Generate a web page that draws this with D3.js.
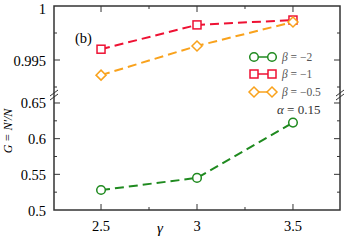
<!DOCTYPE html>
<html>
<head>
<style>
  body { margin: 0; background: #fff; }
</style>
</head>
<body>
<script src="https://cdn.jsdelivr.net/npm/d3@7"></script>
<script>

const width = 346;
const height = 240;

// data
const gammas = [2.5, 3, 3.5];
const betaLabels = [' = \u22122', ' = \u22121', ' = \u22120.5'];
const gBetaM2 = [0.528, 0.545, 0.6225];
const gBetaM1 = [0.9960, 0.99825, 0.99870];
const gBetaM05 = [0.99360, 0.99630, 0.99852];
const xTicks = [2.5, 3, 3.5];
const yTopTicks = [0.995, 1];
const yBotTicks = [0.5, 0.55, 0.6, 0.65];

const plotL = 54, plotR = 340, plotT = 6, plotB = 210, brk = 95;
const serif = "'Liberation Serif', monospace";

const svg = d3.select('body')
              .append('svg')
              .attr('width', width)
              .attr('height', height);

const x = d3.scaleLinear().domain([2.255, 3.745]).range([plotL, plotR]);
const yTop = d3.scaleLinear().domain([0.99176, 1]).range([brk, plotT]);
const yBot = d3.scaleLinear().domain([0.5, 0.6612]).range([plotB, brk]);

const series = [
  {values: gBetaM2, scale: yBot, color: '#1f8a1f', shape: 'circle'},
  {values: gBetaM1, scale: yTop, color: '#ee1133', shape: 'square'},
  {values: gBetaM05, scale: yTop, color: '#f9a21c', shape: 'diamond'}
];

const axisCol = '#333';

// ticks (inward, mirrored)
const tick = (x1, y1, x2, y2) => svg.append('line')
  .attr('x1', x1).attr('y1', y1).attr('x2', x2).attr('y2', y2)
  .attr('stroke', axisCol).attr('stroke-width', 1);

[2.5, 2.75, 3, 3.25, 3.5].forEach((v, i) => {
  const len = i % 2 ? 3 : 6;
  tick(x(v), plotB, x(v), plotB - len);
  tick(x(v), plotT, x(v), plotT + len);
});
[0.9925, 0.995, 0.9975].forEach((v, i) => {
  const len = i === 1 ? 6 : 3;
  tick(plotL, yTop(v), plotL + len, yTop(v));
  tick(plotR, yTop(v), plotR - len, yTop(v));
});
[0.525, 0.55, 0.575, 0.6, 0.625, 0.65].forEach((v, i) => {
  const len = i % 2 ? 6 : 3;
  tick(plotL, yBot(v), plotL + len, yBot(v));
  tick(plotR, yBot(v), plotR - len, yBot(v));
});

// frame
svg.append('rect')
  .attr('x', plotL).attr('y', plotT)
  .attr('width', plotR - plotL).attr('height', plotB - plotT)
  .attr('fill', 'none').attr('stroke', axisCol).attr('stroke-width', 1.5);

// break marks
[plotL - 2, plotR - 2].forEach(bx => {
  [-2, 2].forEach(o => {
    svg.append('line')
      .attr('x1', bx - 2).attr('y1', brk + o + 3)
      .attr('x2', bx + 6).attr('y2', brk + o - 3)
      .attr('stroke', axisCol).attr('stroke-width', 1);
  });
});

// tick labels
svg.selectAll('.xl').data(xTicks).enter().append('text')
  .attr('x', d => x(d)).attr('y', 231)
  .attr('text-anchor', 'middle').attr('font-size', 14.5)
  .style('font-family', serif)
  .text(d => d);

svg.selectAll('.yt').data(yTopTicks).enter().append('text')
  .attr('x', 46).attr('y', d => Math.max(yTop(d) + 5.5, 14))
  .attr('text-anchor', 'end').attr('font-size', 14.5)
  .style('font-family', serif)
  .text(d => d);

svg.selectAll('.yb').data(yBotTicks).enter().append('text')
  .attr('x', 46).attr('y', d => yBot(d) + 5.5)
  .attr('text-anchor', 'end').attr('font-size', 14.5)
  .style('font-family', serif)
  .text(d => d);

// axis titles
svg.append('text')
  .attr('x', 160).attr('y', 233)
  .attr('text-anchor', 'middle').attr('font-size', 15).attr('font-style', 'italic')
  .style('font-family', serif)
  .text('\u03B3');

svg.append('text')
  .attr('transform', 'translate(12,131) rotate(-90)')
  .attr('text-anchor', 'middle').attr('font-size', 12).attr('font-style', 'italic')
  .style('font-family', serif)
  .text("G = N\u2032/N");

svg.append('text')
  .attr('x', 75).attr('y', 43).attr('font-size', 14.5)
  .style('font-family', serif)
  .text('(b)');

// markers
const drawMarker = (g, shape, cx, cy, color) => {
  if (shape === 'circle') {
    g.append('circle').attr('cx', cx).attr('cy', cy).attr('r', 4.3)
      .attr('fill', '#fff').attr('stroke', color).attr('stroke-width', 1.5);
  } else if (shape === 'square') {
    g.append('rect').attr('x', cx - 4).attr('y', cy - 4)
      .attr('width', 8).attr('height', 8)
      .attr('fill', '#fff').attr('stroke', color).attr('stroke-width', 1.5);
  } else {
    g.append('path')
      .attr('d', `M${cx},${cy - 5}L${cx + 5},${cy}L${cx},${cy + 5}L${cx - 5},${cy}Z`)
      .attr('fill', '#fff').attr('stroke', color).attr('stroke-width', 1.5);
  }
};

series.forEach(s => {
  const line = d3.line()
    .x((d, i) => x(gammas[i]))
    .y(d => s.scale(d));
  svg.append('path')
    .attr('d', line(s.values))
    .attr('fill', 'none')
    .attr('stroke', s.color)
    .attr('stroke-width', 2)
    .attr('stroke-dasharray', '9,5');
  const g = svg.append('g');
  s.values.forEach((v, i) => drawMarker(g, s.shape, x(gammas[i]), s.scale(v), s.color));
});

// legend
const legY = [57, 74, 92];
series.forEach((s, i) => {
  const g = svg.append('g');
  g.append('line')
    .attr('x1', 254).attr('x2', 272)
    .attr('y1', legY[i]).attr('y2', legY[i])
    .attr('stroke', s.color).attr('stroke-width', 1.5);
  drawMarker(g, s.shape, 254, legY[i], s.color);
  drawMarker(g, s.shape, 272, legY[i], s.color);
  const t = g.append('text')
    .attr('x', 282).attr('y', legY[i] + 4)
    .attr('font-size', 11.5).attr('fill', '#555')
    .style('font-family', serif);
  t.append('tspan').attr('font-style', 'italic').text('\u03B2');
  t.append('tspan').text(betaLabels[i]);
});

const alpha = svg.append('text')
  .attr('x', 277).attr('y', 114)
  .attr('font-size', 13).attr('fill', '#333')
  .style('font-family', serif);
alpha.append('tspan').attr('font-style', 'italic').text('\u03B1');
alpha.append('tspan').text(' = 0.15');

</script>
</body>
</html>
